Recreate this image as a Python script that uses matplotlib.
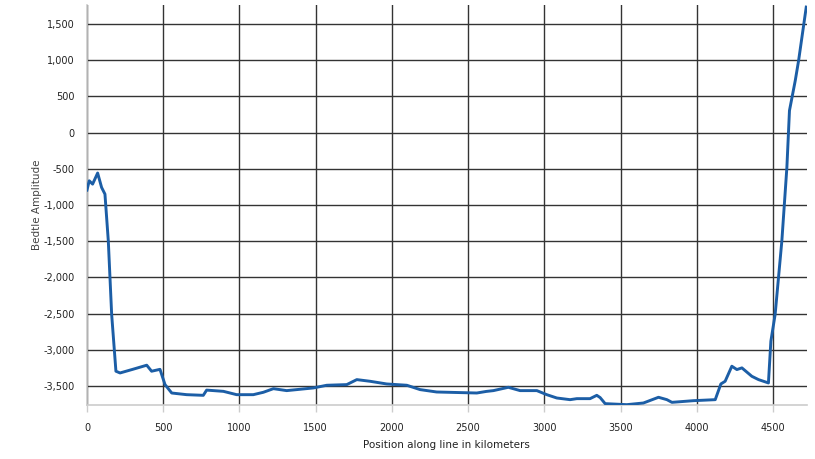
import matplotlib
matplotlib.use("Agg")
import matplotlib.pyplot as plt
from matplotlib.ticker import FuncFormatter

# Data
position_km = [0, 15, 37, 70, 96, 118, 140, 162, 190, 217, 300, 392, 424, 479, 512, 556,
               654, 763, 785, 895, 982, 1091, 1157, 1223, 1310, 1485, 1573, 1704, 1770,
               1857, 1966, 2098, 2185, 2294, 2557, 2620, 2666, 2764, 2841, 2951, 3016,
               3082, 3169, 3213, 3300, 3344, 3366, 3399, 3541, 3650, 3749, 3804, 3837,
               3978, 4121, 4158, 4186, 4230, 4263, 4296, 4361, 4405, 4470, 4486, 4514,
               4558, 4591, 4608, 4646, 4668, 4718]
amplitude = [-794, -665, -711, -558, -757, -849, -1496, -2511, -3296, -3320, -3270, -3213,
             -3296, -3270, -3481, -3597, -3620, -3629, -3557, -3574, -3620, -3620, -3587,
             -3537, -3564, -3527, -3490, -3481, -3412, -3435, -3472, -3490, -3550, -3583,
             -3597, -3575, -3564, -3518, -3564, -3564, -3620, -3666, -3689, -3675, -3675,
             -3629, -3660, -3744, -3758, -3735, -3656, -3689, -3726, -3703, -3689, -3472,
             -3435, -3227, -3273, -3250, -3366, -3412, -3458, -2881, -2511, -1496, -480,
             305, 720, 997, 1735]

x_ticks = [0, 500, 1000, 1500, 2000, 2500, 3000, 3500, 4000, 4500]
y_ticks = [-3500, -3000, -2500, -2000, -1500, -1000, -500, 0, 500, 1000, 1500]

x_title = "Position along line in kilometers"
y_title = "Bedtle Amplitude"

fig = plt.figure(figsize=(8.15, 4.59), dpi=100)
ax = fig.add_axes([0.1067, 0.1176, 0.8833, 0.8714])

ax.plot(position_km, amplitude, color="#1c5ea6", linewidth=2.1, solid_joinstyle="round", zorder=3)

ax.set_xlim(0, 4722)
ax.set_ylim(-3763, 1763)
ax.set_xticks(x_ticks)
ax.set_yticks(y_ticks)
ax.yaxis.set_major_formatter(FuncFormatter(lambda v, p: f"{int(v):,}"))
ax.xaxis.set_major_formatter(FuncFormatter(lambda v, p: f"{int(v)}"))

ax.grid(True, color="#333333", linewidth=1.0, zorder=1)
for s in ["top", "right"]:
    ax.spines[s].set_visible(False)
for s in ["left", "bottom"]:
    ax.spines[s].set_color("#cccccc")
    ax.spines[s].set_linewidth(1.2)

ax.tick_params(axis="y", length=0, pad=9, labelsize=7, labelcolor="#222222")
ax.tick_params(axis="x", length=5, width=1, color="#cccccc", pad=8, labelsize=7, labelcolor="#222222")

ax.set_xlabel(x_title, fontsize=7.5, color="#222222", labelpad=5)
ax.set_ylabel(y_title, fontsize=7.5, color="#444444", labelpad=1)

fig.savefig("out.png", dpi=100)
